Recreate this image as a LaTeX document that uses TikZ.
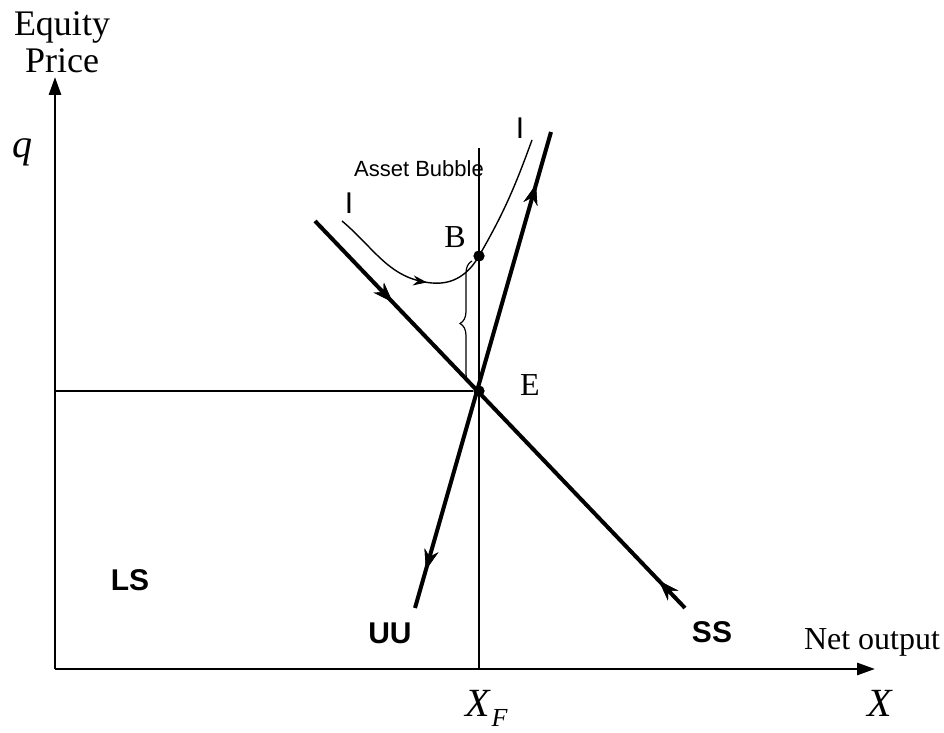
\documentclass[tikz,border=0pt]{standalone}
\usepackage{fontspec}
\setmainfont{Liberation Serif}
\setsansfont{Liberation Sans}
\usetikzlibrary{arrows.meta,decorations.markings,decorations.pathreplacing}

\begin{document}
\begin{tikzpicture}[
    x=0.5pt, y=0.5pt,
    axis/.style={line width=1.4pt, -{Triangle[length=9pt,width=6pt]}},
    guide/.style={line width=0.6pt},
    saddle/.style={line width=2pt},
    icurve/.style={line width=0.7pt},
    dot/.style={circle, fill, inner sep=0pt, minimum size=5.5pt},
    serif/.style={font=\fontsize{16}{18.5}\selectfont},
    mathlbl/.style={font=\fontsize{20}{22}\selectfont\itshape},
    curvelbl/.style={font=\sffamily\bfseries\fontsize{15}{17}\selectfont},
    fwdarrow/.style={postaction={decorate}, decoration={markings,
        mark=at position #1 with {\arrow{Stealth[length=10pt,width=7pt]}}}},
    backarrow/.style={postaction={decorate}, decoration={markings,
        mark=at position #1 with {\arrowreversed{Stealth[length=10pt,width=7pt]}}}},
    smallarrow/.style={postaction={decorate}, decoration={markings,
        mark=at position #1 with {\arrow{Stealth[length=7pt,width=5pt]}}}}
]
    \useasboundingbox (0,0) rectangle (944,733);

    % points of the diagram
    \coordinate (O) at (55,64);
    \coordinate (ytop) at (55,656);
    \coordinate (xend) at (875,64);
    \node[dot] (E) at (479,342) {};
    \node[dot] (B) at (479,477) {};
    \coordinate (vtop) at (479,585);
    \coordinate (vbot) at (479,64);
    \coordinate (hleft) at (55,342);
    \coordinate (ssA) at (315,512);
    \coordinate (ssB) at (685,125);
    \coordinate (uuA) at (415,125);
    \coordinate (uuB) at (551,601);
    \coordinate (iA) at (342,512);
    \coordinate (imin) at (432,450);
    \coordinate (iB) at (532,593);

    % axes and guides
    \draw[axis] (O) -- (ytop);
    \draw[axis] (O) -- (xend);
    \draw[guide] (vbot) -- (vtop);
    \draw[guide] (hleft) -- (E);
    \draw[guide, decorate, decoration={brace, amplitude=6pt}] (472,347) -- (472,472);

    % stable and unstable arms
    \draw[saddle, fwdarrow=0.21, backarrow=0.93] (ssA) -- (ssB);
    \draw[saddle, backarrow=0.08, fwdarrow=0.89] (uuA) -- (uuB);

    % bubble path
    \draw[icurve, smallarrow=0.36] (iA) to[out=-40,in=175] (imin)
        to[out=-5,in=240] (B.center) to[out=60,in=250] (iB);
    \node[dot] at (B) {};
    \node[dot] at (E) {};

    % labels
    \node[font=\fontsize{18}{18.5}\selectfont, align=center] (ylabel) at (62,691) {Equity\\Price};
    \node[mathlbl] (q) at (22,581) {q};
    \node[serif] (netout) at (872,91) {Net output};
    \node[mathlbl] (X) at (880,30) {X};
    \node[mathlbl, anchor=base west] (XF) at (458,16) {X\kern1pt\raisebox{-5pt}{\fontsize{13}{13}\selectfont F}};
    \node[serif] (Elbl) at (530,348) {E};
    \node[serif] (Blbl) at (455,496) {B};
    \node[font=\sffamily\fontsize{11}{12}\selectfont] (bubble) at (419,564) {Asset Bubble};
    \node[font=\sffamily\fontsize{15}{17}\selectfont] (I1) at (349,530) {I};
    \node[font=\sffamily\fontsize{15}{17}\selectfont] (I2) at (520,605) {I};
    \node[curvelbl] (LS) at (130,153) {LS};
    \node[curvelbl] (UU) at (390,100) {UU};
    \node[curvelbl] (SS) at (712,101) {SS};
\end{tikzpicture}
\end{document}
